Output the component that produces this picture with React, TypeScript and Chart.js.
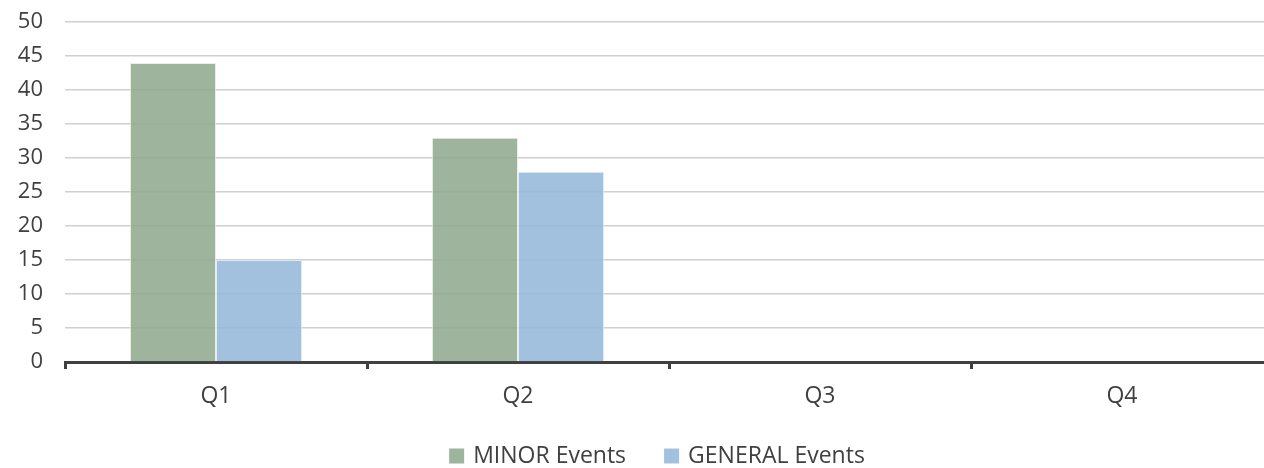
import React, { useEffect, useRef } from "react";
import { Chart, registerables } from "chart.js";

Chart.register(...registerables);

const categories = ["Q1", "Q2", "Q3", "Q4"];
const minorEvents = [44, 33, null, null];
const generalEvents = [15, 28, null, null];
const yTicks = { min: 0, max: 50, step: 5 };
const seriesNames = ["MINOR Events", "GENERAL Events"];

const FONT = "'Open Sans', Lato, sans-serif";

const bottomLegend = {
  id: "bottomLegend",
  afterDraw(chart: any) {
    const ctx = chart.ctx;
    const sets = chart.data.datasets;
    const size = 23;
    const box = 15;
    const gapBox = 9;
    const gapItem = 38;
    ctx.save();
    ctx.font = `${size}px ${FONT}`;
    ctx.textBaseline = "middle";
    const widths = sets.map((d: any) => box + gapBox + ctx.measureText(d.label).width);
    const total = widths.reduce((a: number, b: number) => a + b, 0) + gapItem * (sets.length - 1);
    let x = 657 - total / 2;
    const cy = 456;
    sets.forEach((d: any, i: number) => {
      ctx.fillStyle = d.backgroundColor;
      ctx.fillRect(x, cy - box / 2, box, box);
      ctx.fillStyle = "#404040";
      ctx.fillText(d.label, x + box + gapBox, cy);
      x += widths[i] + gapItem;
    });
    ctx.restore();
  },
};

export default function App() {
  const ref = useRef<HTMLCanvasElement | null>(null);
  useEffect(() => {
    document.body.style.margin = "0";
    const ctx = ref.current!;
    const chart = new Chart(ctx, {
      type: "bar",
      data: {
        labels: categories,
        datasets: [
          {
            label: seriesNames[0],
            data: minorEvents as any,
            backgroundColor: "rgba(146,170,143,0.88)",
            borderColor: "rgba(225,235,224,0.8)",
            borderWidth: 1,
          },
          {
            label: seriesNames[1],
            data: generalEvents as any,
            backgroundColor: "rgba(148,184,219,0.88)",
            borderColor: "rgba(220,232,245,0.8)",
            borderWidth: 1,
          },
        ],
      },
      plugins: [bottomLegend],
      options: {
        animation: false,
        responsive: false,
        devicePixelRatio: 1,
        layout: { padding: { top: 0, left: 0, right: 0, bottom: 0 } },
        datasets: { bar: { barPercentage: 1, categoryPercentage: 0.57 } },
        plugins: {
          tooltip: { enabled: false },
          legend: { display: false },
        },
        scales: {
          x: {
            grid: {
              offset: true,
              drawOnChartArea: false,
              drawTicks: true,
              tickLength: 7,
              color: "#404040",
              lineWidth: 3,
            },
            border: { display: true, color: "#404040", width: 3 },
            ticks: {
              color: "#404040",
              font: { family: FONT, size: 23 },
              padding: 14,
            },
            afterFit: (s: any) => {
              s.height = 106;
            },
          },
          y: {
            min: yTicks.min,
            max: yTicks.max,
            ticks: {
              stepSize: yTicks.step,
              color: "#404040",
              font: { family: FONT, size: 22 },
              padding: 9,
            },
            grid: {
              color: "#d0d0d0",
              lineWidth: 1.5,
              drawTicks: true,
              tickLength: 13,
              tickColor: "rgba(0,0,0,0)",
            },
            border: { display: false },
            afterFit: (s: any) => {
              s.width = 65;
            },
          },
        },
      },
    });
    return () => chart.destroy();
  }, []);
  return (
    <div style={{ width: 1264, height: 468, overflow: "hidden" }}>
      <canvas ref={ref} width={1273} height={468} />
    </div>
  );
}
